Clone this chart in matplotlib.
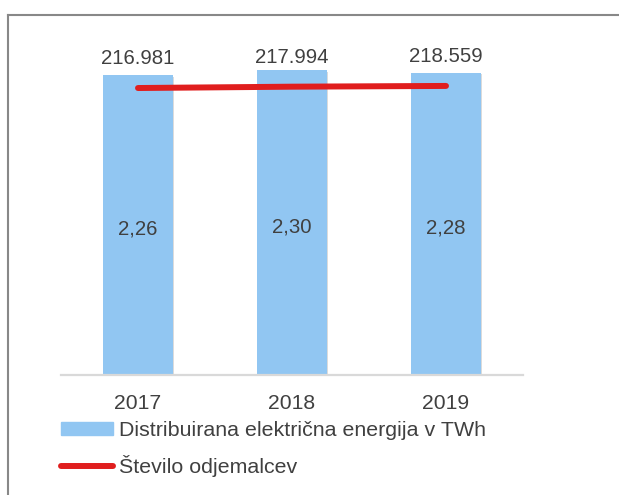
import matplotlib
matplotlib.use('Agg')
import matplotlib.pyplot as plt
import matplotlib.patheffects as pe
from matplotlib.patches import Patch
from matplotlib.lines import Line2D

plt.rcParams['font.family'] = ['Liberation Sans', 'DejaVu Sans']

years = ['2017', '2018', '2019']
energy = [2.26, 2.30, 2.28]            # TWh
customers = [216981, 217994, 218559]

blue = '#91c6f2'
red = '#e01e1e'
text_col = '#404040'
fs = 14.7

fig = plt.figure(figsize=(6.19, 4.95), dpi=100)
ax = fig.add_axes([61 / 619, 120 / 495, 462 / 619, 344.8 / 495])

x = list(range(len(years)))
bars = ax.bar(x, energy, width=0.45, color=blue, zorder=2)
for b in bars:
    b.set_path_effects([pe.SimplePatchShadow(offset=(1.2, -1.2), shadow_rgbFace='#999999', alpha=0.35),
                        pe.Normal()])
ax.set_xlim(-0.5, 2.5)
ax.set_ylim(0, 2.6)
ax.set_xticks(x)
ax.set_xticklabels(years, fontsize=15.2, color=text_col)
ax.tick_params(axis='x', length=0, pad=14)
ax.set_yticks([])
for s in ['top', 'left', 'right']:
    ax.spines[s].set_visible(False)
ax.spines['bottom'].set_color('#d9d9d9')
ax.spines['bottom'].set_linewidth(1.6)

for i, v in enumerate(energy):
    ax.annotate(('%.2f' % v).replace('.', ','), (i, v / 2), xytext=(0, -7),
                textcoords='offset points', ha='center', va='baseline',
                fontsize=fs, color=text_col, zorder=5)

ax2 = ax.twinx()
ax2.set_ylim(0, 260700)
ax2.set_yticks([])
for s in ax2.spines.values():
    s.set_visible(False)
ax2.plot(x, customers, color=red, lw=4.3, solid_capstyle='round', zorder=3)
for i, v in enumerate(customers):
    ax2.annotate('{:,}'.format(v).replace(',', '.'), (i, v), xytext=(0, 17),
                 textcoords='offset points', ha='center', va='baseline',
                 fontsize=fs, color=text_col)

# frame around the chart (only left and top visible in the crop)
fig.add_artist(Line2D([8 / 619, 8 / 619], [0, 1 - 15 / 495], transform=fig.transFigure,
                      color='#888888', lw=1.5))
fig.add_artist(Line2D([8 / 619, 1], [1 - 15 / 495, 1 - 15 / 495], transform=fig.transFigure,
                      color='#888888', lw=1.5))

handles = [Patch(color=blue),
           Line2D([], [], color=red, lw=4.3, solid_capstyle='round')]
labels = ['Distribuirana električna energija v TWh', 'Število odjemalcev']
leg = fig.legend(handles, labels, loc='upper left', bbox_to_anchor=(61 / 619, 1 - 421 / 495),
                 frameon=False, fontsize=15.4, handlelength=2.45, handleheight=0.52,
                 handletextpad=0.25, labelspacing=0.72, borderpad=0, borderaxespad=0)
for t in leg.get_texts():
    t.set_color(text_col)

fig.savefig('out.png', dpi=100)
